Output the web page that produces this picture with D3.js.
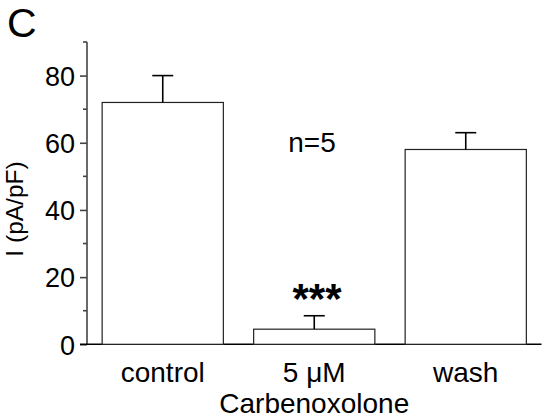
<!DOCTYPE html>
<html>
<head>
<meta charset="utf-8">
<script src="https://cdn.jsdelivr.net/npm/d3@7"></script>
<style>
  html, body { margin: 0; padding: 0; background: #fff; }
  svg { display: block; font-family: "Liberation Sans", Arial, sans-serif; }
</style>
</head>
<body>
<svg id="chart" width="544" height="420"></svg>
<script>
// Current density per condition (mean ± SEM)
const categories = ["control", "5 \u03BCM", "wash"];
const means = [72, 4.5, 58];
const errors = [8, 4, 5];
const majorTicks = [0, 20, 40, 60, 80];
const minorTicks = [10, 30, 50, 70, 90];

const svg = d3.select("#chart");

const x = d3.scaleBand()
  .domain(categories)
  .range([87, 541.5])
  .paddingInner(0.2)
  .paddingOuter(0.1);

const y = d3.scaleLinear()
  .domain([0, 90])
  .range([344.3, 42]);

// Panel letter
svg.append("text")
  .attr("x", 7).attr("y", 37)
  .attr("font-size", 41)
  .attr("fill", "#000")
  .text("C");

// Y axis: labelled major ticks plus short minor ticks
const yAxis = svg.append("g")
  .attr("transform", "translate(87,0)")
  .call(d3.axisLeft(y).tickValues(majorTicks).tickSize(7).tickPadding(5).tickFormat(d3.format("d")));
yAxis.select(".domain").attr("d", `M0,${y(90)}V${y(0)}`);
yAxis.selectAll(".domain, .tick line").attr("stroke", "#444").attr("stroke-width", 1.6);
yAxis.selectAll(".tick text").attr("font-size", 27).attr("fill", "#000")
  .attr("font-family", "Liberation Sans, Arial, sans-serif").attr("dy", "0.36em");

svg.append("g")
  .attr("transform", "translate(87,0)")
  .selectAll("line").data(minorTicks).join("line")
  .attr("x1", -4).attr("x2", 0)
  .attr("y1", d => y(d)).attr("y2", d => y(d))
  .attr("stroke", "#444").attr("stroke-width", 1.6);

// Baseline across the bottom
svg.append("line")
  .attr("x1", 80).attr("x2", 541.5)
  .attr("y1", y(0)).attr("y2", y(0))
  .attr("stroke", "#000").attr("stroke-width", 1.6);

// Y axis title
svg.append("text")
  .attr("transform", "translate(22.5,209) rotate(-90)")
  .attr("text-anchor", "middle")
  .attr("font-size", 24.5)
  .attr("fill", "#000")
  .text("I (pA/pF)");

// Bars
const data = categories.map((c, i) => ({ c, m: means[i], e: errors[i] }));
svg.append("g").selectAll("rect").data(data).join("rect")
  .attr("x", d => x(d.c))
  .attr("y", d => y(d.m))
  .attr("width", x.bandwidth())
  .attr("height", d => y(0) - y(d.m))
  .attr("fill", "#fff")
  .attr("stroke", "#222")
  .attr("stroke-width", 1.2);

// Upper error bars with caps
const eb = svg.append("g").attr("stroke", "#000").attr("stroke-width", 1.6);
eb.selectAll("line.v").data(data).join("line").attr("class", "v")
  .attr("x1", d => x(d.c) + x.bandwidth() / 2)
  .attr("x2", d => x(d.c) + x.bandwidth() / 2)
  .attr("y1", d => y(d.m))
  .attr("y2", d => y(d.m + d.e));
eb.selectAll("line.cap").data(data).join("line").attr("class", "cap")
  .attr("x1", d => x(d.c) + x.bandwidth() / 2 - 10.5)
  .attr("x2", d => x(d.c) + x.bandwidth() / 2 + 10.5)
  .attr("y1", d => y(d.m + d.e))
  .attr("y2", d => y(d.m + d.e));

// Category labels
svg.append("g").selectAll("text").data(categories).join("text")
  .attr("x", d => x(d) + x.bandwidth() / 2)
  .attr("y", 382)
  .attr("text-anchor", "middle")
  .attr("font-size", 28)
  .attr("fill", "#000")
  .text(d => d);

svg.append("text")
  .attr("x", x(categories[1]) + x.bandwidth() / 2)
  .attr("y", 413)
  .attr("text-anchor", "middle")
  .attr("font-size", 28)
  .attr("fill", "#000")
  .text("Carbenoxolone");

// Significance marker and sample size
svg.append("text")
  .attr("x", 317)
  .attr("y", 313)
  .attr("text-anchor", "middle")
  .attr("font-size", 42)
  .attr("font-weight", "bold")
  .attr("fill", "#000")
  .text("***");

svg.append("text")
  .attr("x", 312)
  .attr("y", 152)
  .attr("text-anchor", "middle")
  .attr("font-size", 28)
  .attr("fill", "#000")
  .text("n=5");
</script>
</body>
</html>
